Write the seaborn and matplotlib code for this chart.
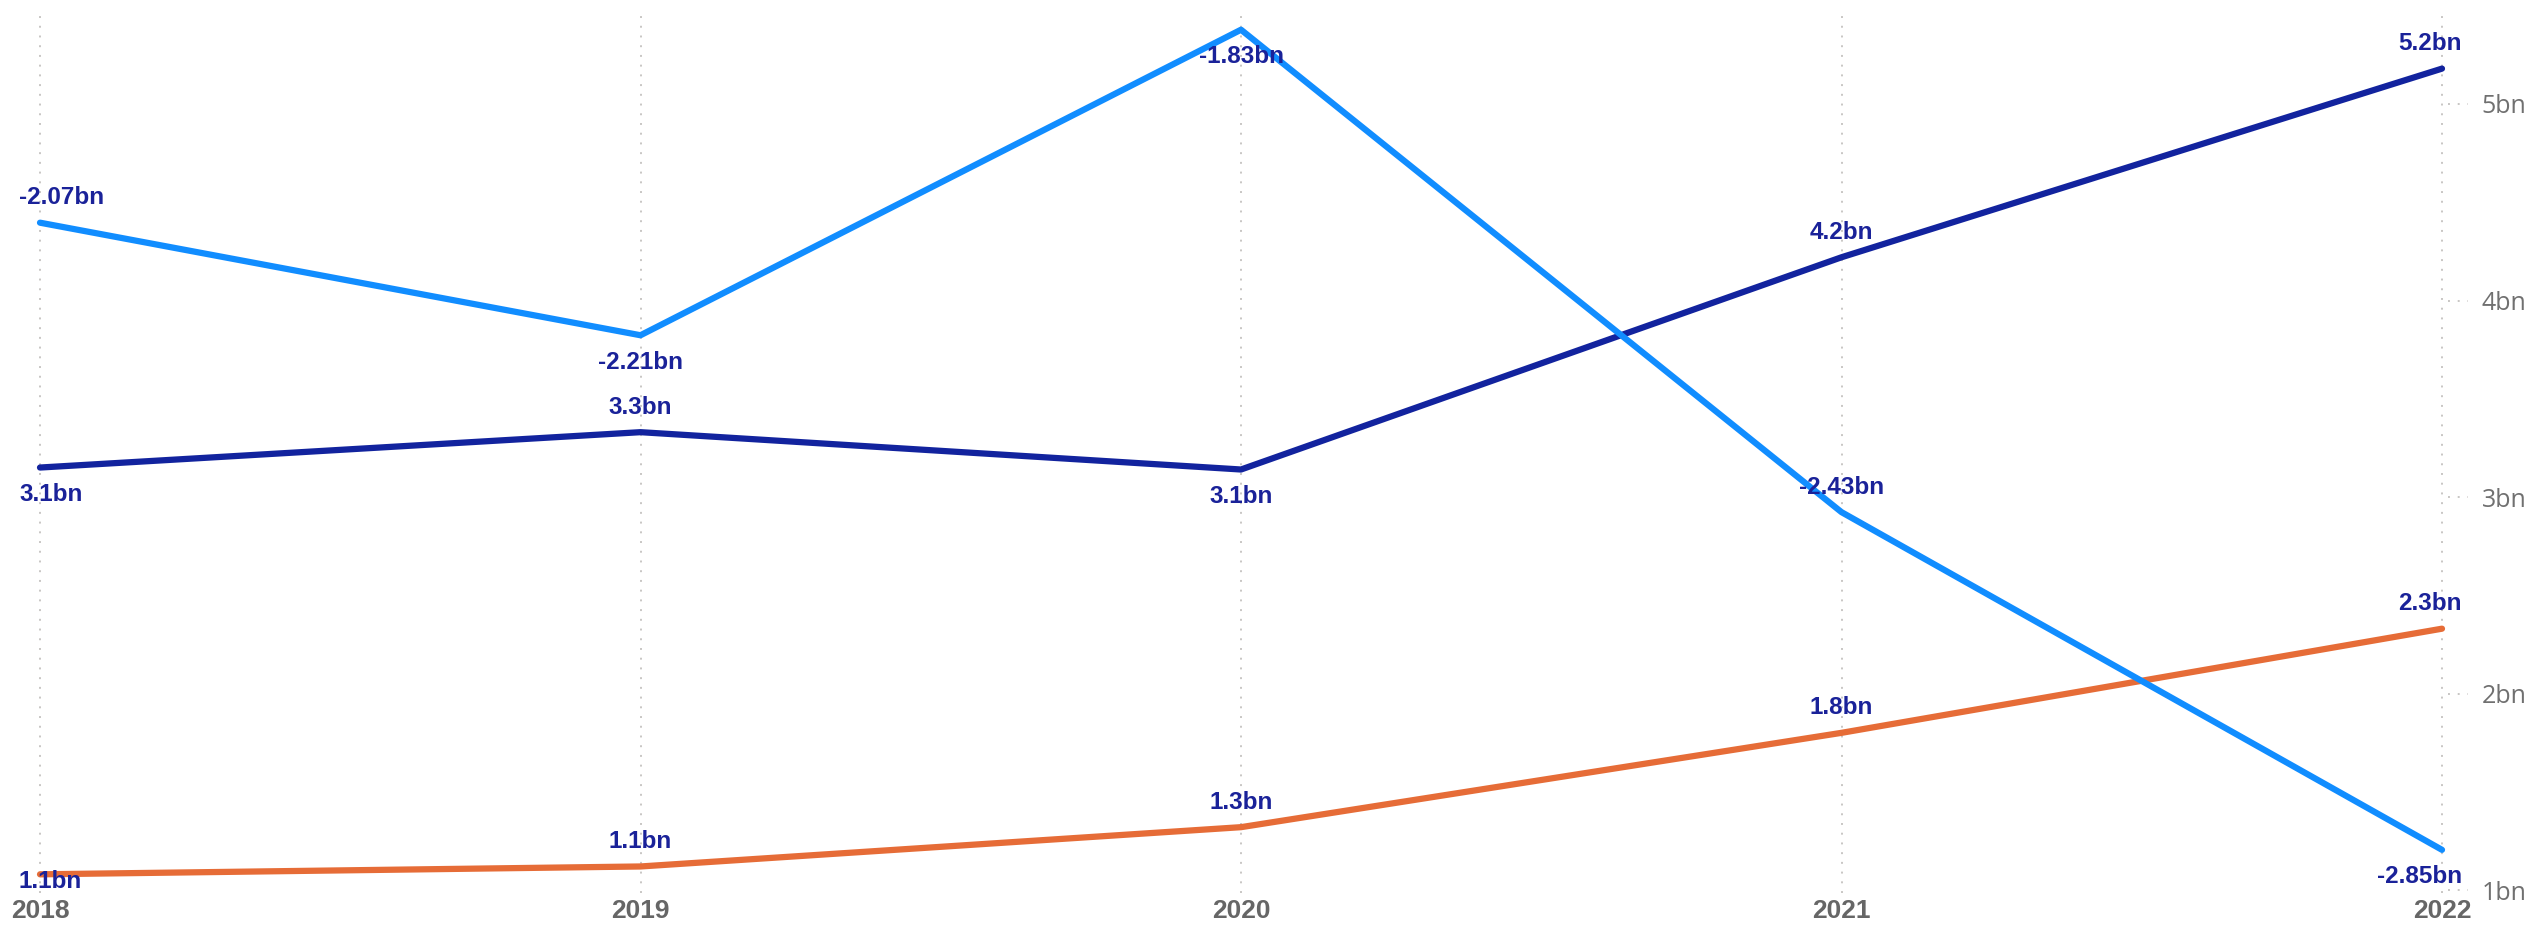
import numpy as np
import pandas as pd
import matplotlib
matplotlib.use("Agg")
import matplotlib.pyplot as plt
import matplotlib.transforms as mtransforms
import seaborn as sns

# data (bn)
years = [2018, 2019, 2020, 2021, 2022]
series_a = [3.15, 3.33, 3.14, 4.22, 5.18]           # dark blue, right axis
series_b = [1.08, 1.12, 1.32, 1.80, 2.33]           # orange, right axis
series_c = [-2.07, -2.21, -1.83, -2.43, -2.85]      # light blue, hidden second axis
y_ticks = [1, 2, 3, 4, 5]

# where each data label sits relative to its point
pos_a = ['below', 'above', 'below', 'above', 'above']
pos_b = ['below', 'above', 'above', 'above', 'above']
pos_c = ['above', 'below', 'below', 'above', 'below']

sns.set_theme(style="white")
plt.rcParams['font.family'] = ['Liberation Sans', 'DejaVu Sans']

df = pd.DataFrame({'year': years, 'a': series_a, 'b': series_b, 'c': series_c})

W, H = 2528, 926
fig = plt.figure(figsize=(W / 100, H / 100), dpi=100)
left_px, right_px, top_px, bottom_px = 20, 2462, 13, 893
ax = fig.add_axes([left_px / W, 1 - bottom_px / H, (right_px - left_px) / W, (bottom_px - top_px) / H])
ax2 = ax.twinx()

dark, orange, light = '#12239E', '#E66C37', '#118DFF'
lab_col = '#1A2299'

sns.lineplot(data=df, x='year', y='a', ax=ax, color=dark, linewidth=4.5, zorder=3)
sns.lineplot(data=df, x='year', y='b', ax=ax, color=orange, linewidth=4.5, zorder=3)
sns.lineplot(data=df, x='year', y='c', ax=ax2, color=light, linewidth=4.5, zorder=3)
for line in ax.lines + ax2.lines:
    line.set_solid_capstyle('round')
    line.set_clip_on(False)

px_x = (2442 - 40) / 4
ax.set_xlim(2018 - 20 / px_x, 2022 + 20 / px_x)
ax.set_ylim(0.985, 5.463)
ax2.set_ylim(-2.9037, -1.8092)

for a in (ax, ax2):
    for s in a.spines.values():
        s.set_visible(False)
    a.set_xlabel('')
    a.set_ylabel('')
ax2.set_yticks([])

# vertical dotted gridlines
for yr in years:
    ax.axvline(yr, color='#C8C6C4', linestyle=(0, (1, 4)), linewidth=1.4, zorder=0)

ax.set_xticks(years)
ax.set_xticklabels([str(y) for y in years], fontsize=19, fontweight='bold', color='#666666')
ax.tick_params(axis='x', length=0, pad=4)

ax.yaxis.tick_right()
ax.set_yticks(y_ticks)
ax.set_yticklabels([f'{v}bn' for v in y_ticks], fontsize=18, color='#707070',
                   family=['Open Sans', 'DejaVu Sans'])
ax.tick_params(axis='y', length=0, pad=14)

# short dotted stubs next to the tick labels
trans = mtransforms.blended_transform_factory(ax.transAxes, ax.transData)
span = right_px - left_px
for v in y_ticks:
    ax.plot([1.0 - 14 / span, 1.0 + 6 / span], [v, v], transform=trans,
            color='#C8C6C4', linestyle=(0, (1, 4)), linewidth=1.4, clip_on=False, zorder=0)

# lowest allowed label centre (display px from bottom)
min_label_y = H - 882


def label_series(a, values, where):
    n = len(values)
    for i, (yr, v, w) in enumerate(zip(years, values, where)):
        px, py = a.transData.transform((yr, v))
        ly = py + 25 if w == 'above' else max(py - 27, min_label_y)
        if i == 0:
            ha, lx = 'left', px - 21
        elif i == n - 1:
            ha, lx = 'right', px + 20
        else:
            ha, lx = 'center', px
        a.annotate(f'{v:.2f}bn' if a is ax2 else f'{v:.1f}bn', (yr, v),
                   xytext=(lx, ly), textcoords='figure pixels',
                   ha=ha, va='center', fontsize=17.5, fontweight='bold',
                   color=lab_col, zorder=5, annotation_clip=False)


label_series(ax, series_a, pos_a)
label_series(ax, series_b, pos_b)
label_series(ax2, series_c, pos_c)

fig.savefig('out.png', dpi=100)
